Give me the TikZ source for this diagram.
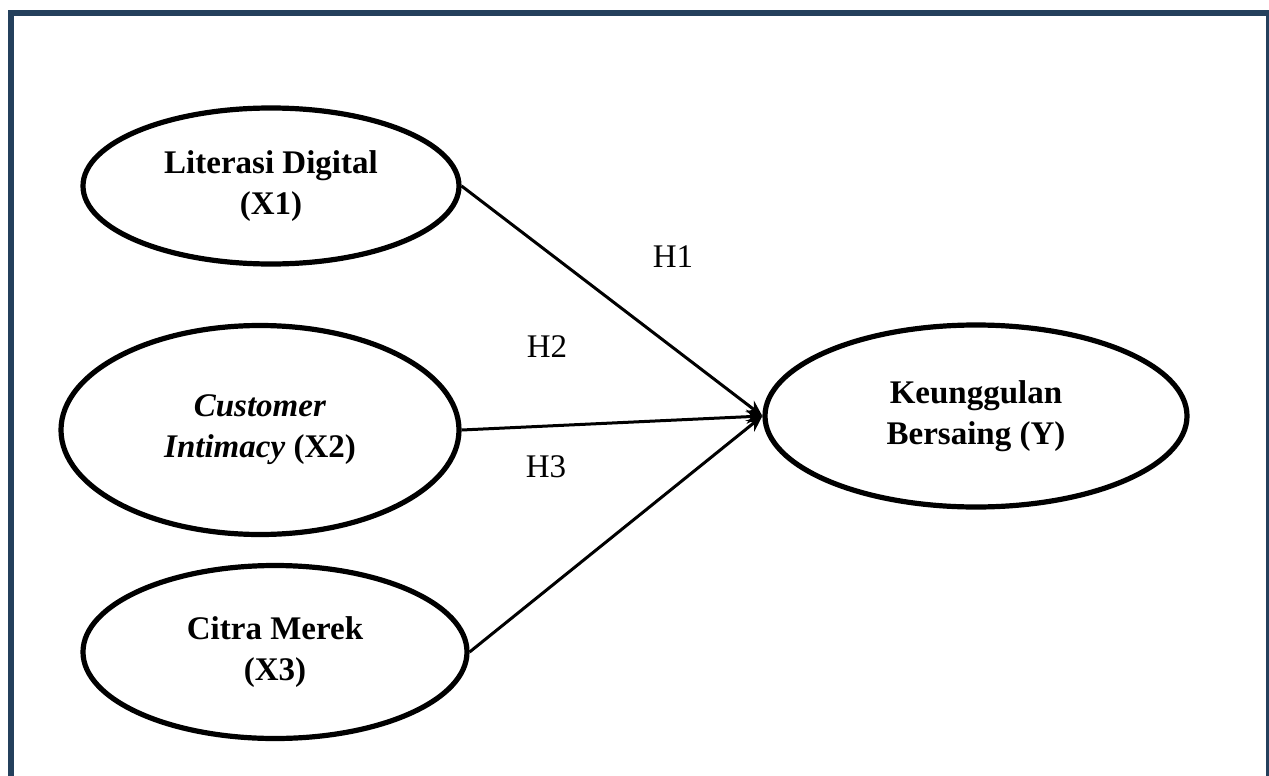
\documentclass[tikz,border=0pt]{standalone}
\usepackage{fontspec}
\setmainfont{Liberation Serif}
\usepackage{xcolor}
\usetikzlibrary{arrows.meta,shapes.geometric,positioning}
\definecolor{framecol}{RGB}{36,64,92}

\begin{document}
\begin{tikzpicture}[x=0.5pt,y=-0.5pt,>={Stealth[length=8pt,width=7pt]},
latent/.style={ellipse, draw=black, line width=2.6pt, inner sep=0pt,
    align=center, font=\fontsize{16.5}{20.5}\selectfont\bfseries},
hyp/.style={font=\fontsize{16.5}{20}\selectfont},
link/.style={->, line width=1.5pt}]
\useasboundingbox (0,0) rectangle (1269,776);
% frame
\draw[framecol, line width=3pt] (11,780) -- (11,13) -- (1269,13) -- (1269,780);

% variables
\node[latent, minimum width=188pt, minimum height=78pt] (x1) at (271,186)
    {Literasi Digital\\(X1)};
\node[latent, minimum width=199pt, minimum height=104.5pt] (x2) at (260,430)
    {\textit{Customer}\\\textit{Intimacy} (X2)};
\node[latent, minimum width=192pt, minimum height=86.5pt] (x3) at (275,652)
    {Citra Merek\\(X3)};
\node[latent, minimum width=211pt, minimum height=91pt] (y) at (976,416)
    {Keunggulan\\Bersaing (Y)};

% hypotheses
\draw[link] (x1.east) -- (y.west);
\draw[link] (x2.east) -- (y.west);
\draw[link] (x3.east) -- (y.west);
\node[hyp] (h1) at (673,257) {H1};
\node[hyp] (h2) at (547,347) {H2};
\node[hyp] (h3) at (546,467) {H3};
\end{tikzpicture}
\end{document}
